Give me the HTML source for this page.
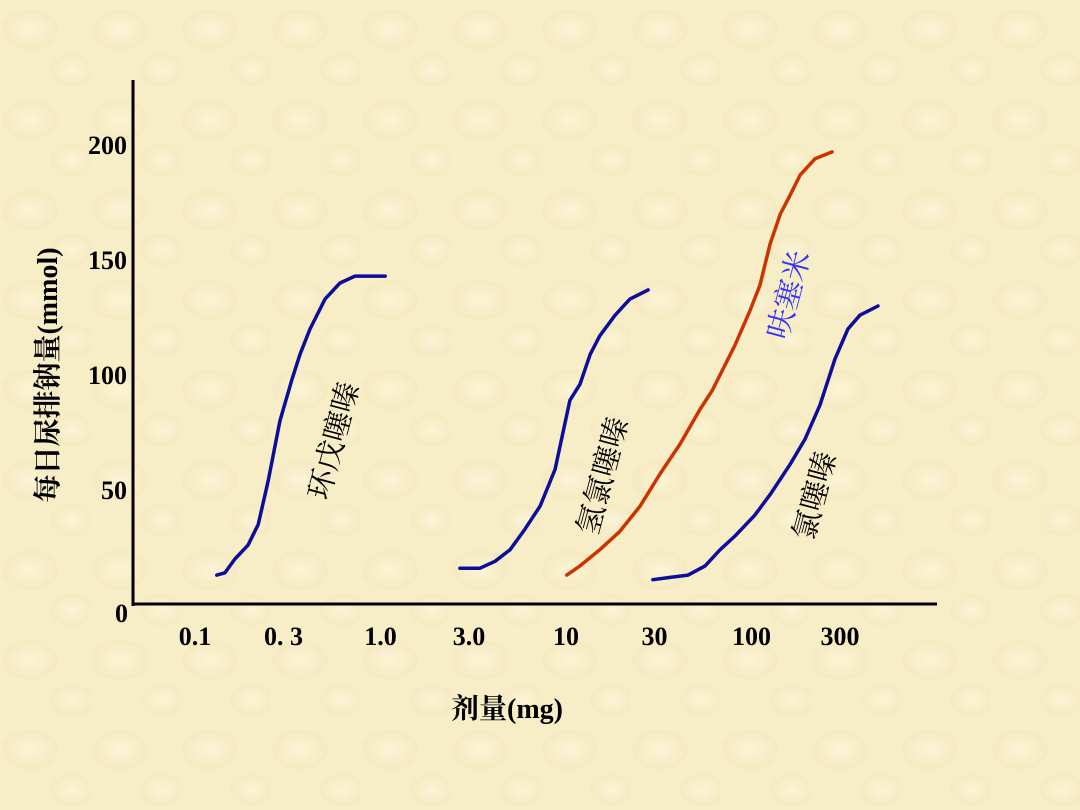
<!DOCTYPE html>
<html><head><meta charset="utf-8"><style>
html,body{margin:0;padding:0;}
body{width:1080px;height:810px;overflow:hidden;background:#f8efc9;}
svg{display:block;}
</style></head><body>
<svg width="1080" height="810" viewBox="0 0 1080 810" xmlns="http://www.w3.org/2000/svg">
<defs>
<radialGradient id="mot" cx="50%" cy="50%" r="50%"><stop offset="0" stop-color="#fbf4d6"/><stop offset="1" stop-color="#f5e9c0"/></radialGradient>
<pattern id="bgp" width="90" height="90" patternUnits="userSpaceOnUse"><rect width="90" height="90" fill="#f7edc6"/><ellipse cx="30" cy="30" rx="28" ry="20" fill="url(#mot)"/><ellipse cx="72" cy="70" rx="22" ry="16" fill="url(#mot)"/></pattern>
</defs>
<rect width="1080" height="810" fill="url(#bgp)"/>
<g id="plot"></g>
</svg>
<script>
const xTicks=[0.1,0.3,1,3,10,30,100,300];
const xTickLabels=["0.1","0. 3","1.0","3.0","10","30","100","300"];
const yTicks=[0,50,100,150,200];
const curve1Dose=[0.131,0.145,0.164,0.193,0.219,0.248,0.287,0.333,0.368,0.417,0.502,0.605,0.729,1.06];
const curve1Na=[13,14,20,26,35,54,80,98,109,120,133,140,143,143];
const curve2Dose=[2.68,3.44,4.14,4.99,6.01,7.25,8.73,10.5,11.9,13.5,15.2,18.4,22.1,27.7];
const curve2Na=[16,16,19,24,33,43,59,89,96,109,117,126,133,137];
const curve3Dose=[10.1,11.9,15.2,19.5,25.1,32.1,41.2,52.7,61.2,67.6,81.5,98.2,111,126,143,161,183,220,272];
const curve3Na=[13,17,24,32,43,57,70,85,93,100,113,128,139,157,170,178,187,194,197];
const curve4Dose=[29.4,36.4,45.5,56.2,67.6,81.5,104,126,161,194,234,282,331,384,481];
const curve4Na=[11,12,13,17,24,30,39,48,61,72,87,107,120,126,130];

const NS="http://www.w3.org/2000/svg";
const g=document.getElementById('plot');
function X(d){return 195+(Math.log10(d)+1)*185.5;}
function Y(v){return 605-v*2.3;}
function el(t,a,txt){const e=document.createElementNS(NS,t);for(const k in a)e.setAttribute(k,a[k]);if(txt!==undefined)e.textContent=txt;g.appendChild(e);return e;}
const serif='"Liberation Serif","Noto Serif CJK SC",serif';
let e;
e=el('line',{x1:133,y1:80,x2:133,y2:606,stroke:'#000','stroke-width':3});


e=el('line',{x1:132,y1:604,x2:937,y2:604,stroke:'#000','stroke-width':3});


yTicks.forEach(v=>{
 e=el('text',{x:v===0?128:127,y:Y(v)+(v===0?17:9),'text-anchor':'end','font-family':serif,'font-weight':'bold','font-size':26},String(v));
 
 
});
xTicks.forEach((d,i)=>{
 e=el('text',{x:X(d),y:645,'text-anchor':'middle','font-family':serif,'font-weight':'bold','font-size':26},xTickLabels[i]);
 
 
});
e=el('text',{x:0,y:0,transform:'translate(57,375) rotate(-90)','text-anchor':'middle','font-family':serif,'font-weight':'bold','font-size':28},'每日尿排钠量(mmol)');


e=el('text',{x:507,y:718,'text-anchor':'middle','font-family':serif,'font-weight':'bold','font-size':28},'剂量(mg)');


function curve(ds,vs,color,name){
 const pts=ds.map((d,i)=>X(d).toFixed(1)+','+Y(vs[i]).toFixed(1)).join(' ');
 const p=el('polyline',{points:pts,fill:'none',stroke:color,'stroke-width':3.5,'stroke-linejoin':'round','stroke-linecap':'round'});
 
 
}
curve(curve1Dose,curve1Na,'#0d0d9c','curve-cyclopenthiazide');
curve(curve2Dose,curve2Na,'#0d0d9c','curve-hydrochlorothiazide');
curve(curve3Dose,curve3Na,'#cc3300','curve-furosemide');
curve(curve4Dose,curve4Na,'#0d0d9c','curve-chlorothiazide');
function lab(txt,cx,cy,color,name){
 e=el('text',{x:0,y:0,transform:`translate(${cx},${cy}) rotate(-75)`,'text-anchor':'middle','dominant-baseline':'central','font-family':'"Noto Serif CJK SC",serif','font-size':30,fill:color},txt);
 
 
}
lab('环戊噻嗪',331,440,'#000','label-cyclopenthiazide');
lab('氢氯噻嗪',600,475,'#000','label-hydrochlorothiazide');
lab('呋塞米',786,294,'#3333ff','label-furosemide');
lab('氯噻嗪',812,495,'#000','label-chlorothiazide');
</script>
</body></html>
